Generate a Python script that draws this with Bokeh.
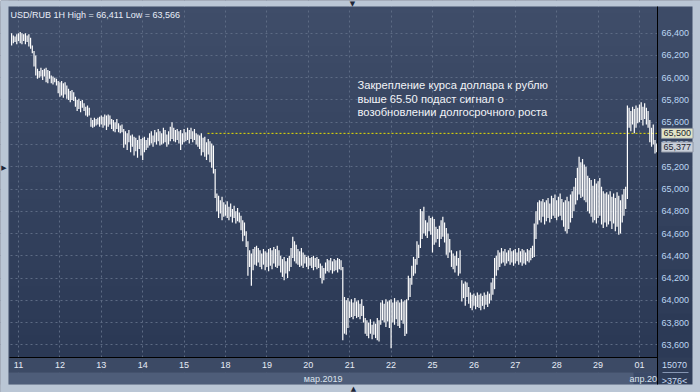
import numpy as np
from bokeh.plotting import figure
from bokeh.models import Range1d, FixedTicker, BoxAnnotation, Label, CustomJSTickFormatter
from bokeh.embed import file_html
from bokeh.resources import INLINE

# ---------------- data ----------------
day_labels = ["11", "12", "13", "14", "15", "18", "19", "20", "21", "22",
              "25", "26", "27", "28", "29", "01"]
day_ticks = [4, 28, 52, 76, 100, 124, 148, 172, 196, 220, 244, 268, 292, 316, 340, 364]
price_ticks = [63.6, 63.8, 64.0, 64.2, 64.4, 64.6, 64.8, 65.0, 65.2, 65.4, 65.6, 65.8, 66.0, 66.2, 66.4]
level_line = 65.50
last_price = 65.377
title_text = "USD/RUB 1H High = 66,411 Low = 63,566"
note_text = ("Закрепление курса доллара к рублю\n"
             "выше 65.50 подаст сигнал о\n"
             "возобновлении долгосрочного роста")
month_labels = ["мар.2019", "апр.20"]
bars_info = ["15070", ">376<"]

highs = [
    66.40, 66.38, 66.37, 66.39, 66.40, 66.41, 66.40, 66.39, 66.40, 66.38, 66.39, 66.36,
    66.29, 66.24, 66.20, 66.08, 66.06, 66.09, 66.07, 66.08, 66.09, 66.07, 66.06,
    66.02, 66.01, 66.00, 65.99,
    65.97, 65.96, 65.97, 65.95, 65.96, 65.93,
    65.90, 65.88, 65.89, 65.87,
    65.83, 65.80, 65.81, 65.79, 65.80, 65.77,
    65.74, 65.75, 65.73,
    65.64, 65.62, 65.64, 65.63, 65.64, 65.65,
    65.66, 65.65, 65.67, 65.66, 65.67, 65.66, 65.63,
    65.62, 65.60, 65.63, 65.59, 65.57, 65.58,
    65.54, 65.52, 65.50, 65.53, 65.48, 65.49,
    65.47, 65.46, 65.44, 65.48, 65.45, 65.46, 65.47, 65.44, 65.46,
    65.50, 65.52, 65.48, 65.53, 65.51, 65.54, 65.52, 65.50, 65.55, 65.53, 65.49, 65.52, 65.56, 65.60,
    65.55, 65.53, 65.54, 65.52, 65.53, 65.50, 65.54, 65.51, 65.55, 65.53, 65.55, 65.52, 65.54, 65.50,
    65.49, 65.48, 65.50, 65.46, 65.47, 65.42, 65.45, 65.43, 65.41,
    65.39, 65.18, 64.96,
    64.94, 64.90, 64.93, 64.88, 64.86, 64.89, 64.84, 64.87, 64.82, 64.85, 64.80, 64.83, 64.79,
    64.76, 64.72, 64.70, 64.62,
    64.53, 64.45, 64.42,
    64.46, 64.48, 64.49, 64.47,
    64.45, 64.42, 64.46, 64.44, 64.43, 64.46, 64.47, 64.45, 64.48, 64.46, 64.49, 64.45, 64.40,
    64.37, 64.39, 64.35, 64.38, 64.40, 64.47,
    64.57, 64.53, 64.50,
    64.46, 64.44, 64.47, 64.43, 64.41,
    64.39, 64.40, 64.38, 64.39, 64.40, 64.38, 64.39, 64.37,
    64.33, 64.31, 64.29,
    64.34, 64.37, 64.36, 64.38, 64.35, 64.37, 64.36, 64.38, 64.37, 64.36,
    64.30, 64.03, 64.00, 64.02,
    63.99, 64.01, 63.98, 64.02, 63.99, 64.00, 63.97, 64.01, 63.95,
    63.84, 63.82, 63.80, 63.83, 63.78, 63.81, 63.79, 63.84, 63.82,
    63.98, 64.00, 63.97, 64.01, 63.99, 64.00,
    64.01, 63.98, 64.02, 63.99, 64.00, 63.98, 64.01, 63.99, 64.00, 64.01,
    64.22, 64.20, 64.31, 64.39, 64.37,
    64.53, 64.50, 64.82, 64.80, 64.84,
    64.72, 64.70, 64.76, 64.74,
    64.75, 64.73, 64.66, 64.64, 64.67,
    64.72, 64.75, 64.70,
    64.65, 64.60, 64.55,
    64.45, 64.42, 64.40, 64.44, 64.38, 64.45,
    64.18, 64.15, 64.17, 64.16, 64.12,
    64.07, 64.05, 64.06, 64.04, 64.07, 64.05, 64.06, 64.04, 64.07, 64.05, 64.08, 64.06,
    64.16, 64.20, 64.38, 64.40,
    64.45, 64.43, 64.47,
    64.44, 64.46, 64.43, 64.45, 64.47, 64.44, 64.45, 64.46, 64.43, 64.47, 64.44, 64.46, 64.45, 64.43, 64.46, 64.45, 64.47, 64.49,
    64.69, 64.80,
    64.88, 64.90, 64.89, 64.91, 64.88, 64.90, 64.92, 64.87,
    64.94, 64.92, 64.95, 64.90, 64.93, 64.96, 64.91,
    64.88, 64.90, 64.93, 64.89, 64.95, 64.98,
    65.02, 65.10, 65.19, 65.29, 65.24, 65.27, 65.22, 65.20,
    65.12, 65.10, 65.08, 65.03, 65.09, 65.05, 65.07,
    65.10, 65.02, 64.98, 64.96, 64.97, 64.95, 64.98, 64.93, 64.96, 64.92, 64.97, 64.94,
    64.90, 64.95, 65.00, 65.02,
    65.75, 65.73, 65.70, 65.74, 65.72, 65.75, 65.73,
    65.76, 65.78, 65.74, 65.77, 65.73, 65.70,
    65.62, 65.55, 65.58,
    65.44, 65.41,
]

lows = [
    66.29, 66.31, 66.32, 66.30, 66.33, 66.31, 66.30, 66.33, 66.30, 66.32, 66.28, 66.26,
    66.22, 66.10, 66.02, 65.99, 66.00, 66.01, 65.98, 66.01, 65.96, 65.95, 65.99,
    65.95, 65.94, 65.96, 65.93,
    65.86, 65.83, 65.84, 65.82, 65.85, 65.81,
    65.80, 65.78, 65.80, 65.79,
    65.74, 65.70, 65.72, 65.69, 65.73, 65.70,
    65.66, 65.65, 65.66,
    65.56, 65.55, 65.56, 65.57, 65.58, 65.56,
    65.58, 65.55, 65.57, 65.53, 65.56, 65.58, 65.54,
    65.52, 65.51, 65.54, 65.51, 65.50, 65.51,
    65.37, 65.40, 65.35, 65.42, 65.33, 65.38,
    65.30, 65.34, 65.28, 65.36, 65.30, 65.26, 65.33, 65.35, 65.37,
    65.39, 65.41, 65.38, 65.42, 65.40, 65.43, 65.39, 65.40, 65.41, 65.42, 65.38, 65.40, 65.43, 65.45,
    65.43, 65.42, 65.44, 65.41, 65.35, 65.40, 65.42, 65.43, 65.44, 65.41, 65.45, 65.42, 65.44, 65.40,
    65.38, 65.36, 65.30, 65.33, 65.29, 65.26, 65.31, 65.24, 65.19,
    65.14, 64.92, 64.80,
    64.74, 64.78, 64.72, 64.75, 64.76, 64.74, 64.72, 64.75, 64.70, 64.74, 64.69, 64.71, 64.70,
    64.63, 64.53, 64.58, 64.48,
    64.22, 64.30, 64.13,
    64.27, 64.32, 64.31, 64.34,
    64.30, 64.28, 64.32, 64.27, 64.30, 64.26, 64.31, 64.28, 64.33, 64.30, 64.29, 64.31, 64.25,
    64.21, 64.18, 64.24, 64.20, 64.26, 64.30,
    64.38, 64.35, 64.33,
    64.32, 64.30, 64.31, 64.29, 64.33,
    64.30, 64.28, 64.31, 64.29, 64.27, 64.30, 64.28, 64.29,
    64.20, 64.15, 64.18,
    64.24, 64.26, 64.25, 64.27, 64.24, 64.26, 64.27, 64.25, 64.28, 64.27,
    63.64, 63.70, 63.69, 63.75,
    63.84, 63.85, 63.83, 63.86, 63.84, 63.85, 63.83, 63.86, 63.80,
    63.70, 63.68, 63.66, 63.70, 63.65, 63.69, 63.66, 63.64, 63.63,
    63.78, 63.82, 63.80, 63.76, 63.81, 63.75,
    63.57, 63.80, 63.78, 63.83, 63.77, 63.75, 63.82, 63.79, 63.68, 63.70,
    64.00, 64.03, 64.14, 64.22, 64.24,
    64.32, 64.38, 64.47, 64.55, 64.60,
    64.58, 64.56, 64.62, 64.59,
    64.43, 64.50, 64.52, 64.55, 64.48,
    64.55, 64.57, 64.52,
    64.41, 64.38, 64.43,
    64.30, 64.28, 64.25, 64.31, 64.22, 64.24,
    63.99, 64.02, 63.95, 64.03, 63.97,
    63.93, 63.91, 63.95, 63.92, 63.94, 63.93, 63.91, 63.95, 63.92, 63.96, 63.94, 63.97,
    64.00, 64.05, 64.10, 64.22,
    64.27, 64.30, 64.33,
    64.34, 64.31, 64.33, 64.35, 64.32, 64.34, 64.31, 64.33, 64.35, 64.32, 64.34, 64.31, 64.33, 64.32, 64.35, 64.34, 64.36, 64.38,
    64.39, 64.55,
    64.68, 64.72, 64.70, 64.75, 64.68, 64.71, 64.74, 64.70,
    64.73, 64.76, 64.74, 64.72, 64.75, 64.76, 64.72,
    64.66, 64.62, 64.60, 64.64, 64.70, 64.74,
    64.80, 64.86, 64.90, 64.95, 64.92, 64.93, 64.90, 64.88,
    64.80, 64.78, 64.75, 64.70, 64.72, 64.69, 64.74,
    64.76, 64.68, 64.65, 64.70, 64.66, 64.68, 64.71, 64.64, 64.69, 64.62, 64.66, 64.59,
    64.60, 64.70, 64.76, 64.82,
    64.91, 65.55, 65.52, 65.58, 65.50, 65.55, 65.59,
    65.60, 65.62, 65.57, 65.63, 65.58, 65.55,
    65.42, 65.38, 65.40,
    65.32, 65.33,
]

n = min(len(highs), len(lows))
bar_index = list(range(n))
highs = highs[:n]
lows = lows[:n]

# ---------------- layout geometry (pixels of the 700x392 canvas) ----------------
W, H = 700, 392
CH_L, CH_R, CH_T, CH_B = 9, 657, 8, 357          # chart area
X_AT_L, X_AT_R = -1.22, 374.45                    # bar index at chart left / right edge
Y_AT_T, Y_AT_B = 66.622, 63.486                   # price at chart top / bottom edge


def xd(px):
    return X_AT_L + (px - CH_L) * (X_AT_R - X_AT_L) / (CH_R - CH_L)


def yd(py):
    return Y_AT_T - (py - CH_T) * (Y_AT_T - Y_AT_B) / (CH_B - CH_T)


def ypx(price):
    return CH_T + (Y_AT_T - price) * (CH_B - CH_T) / (Y_AT_T - Y_AT_B)


FONT = "Liberation Sans"

# the frame spans the whole canvas; axes are pinned with fixed_location
p = figure(width=W, height=H, output_backend="svg", toolbar_location=None,
           x_range=Range1d(xd(0), xd(W)), y_range=Range1d(yd(H), yd(0)),
           y_axis_location="right", min_border=0,
           min_border_left=0, min_border_right=0, min_border_top=0, min_border_bottom=0)
p.title.visible = False
p.border_fill_color = "#3A4863"
p.background_fill_color = "#3A4863"
p.outline_line_color = None

# vertical gradient of the chart panel
N = 64
top_c = np.array([0x3F, 0x4D, 0x69], dtype=float)
bot_c = np.array([0x2B, 0x39, 0x55], dtype=float)
img = np.empty((N, 1), dtype=np.uint32)
view = img.view(dtype=np.uint8).reshape((N, 1, 4))
for r in range(N):
    t = r / (N - 1)
    c = bot_c + (top_c - bot_c) * t
    view[r, 0, 0] = int(c[0])
    view[r, 0, 1] = int(c[1])
    view[r, 0, 2] = int(c[2])
    view[r, 0, 3] = 255
p.image_rgba(image=[img], x=xd(8), y=yd(CH_B), dw=xd(CH_R) - xd(8), dh=yd(CH_T) - yd(CH_B),
             level="image")

# axes
xt = FixedTicker(ticks=day_ticks)
yt = FixedTicker(ticks=price_ticks)
p.xaxis.ticker = xt
p.xgrid.ticker = xt
p.yaxis.ticker = yt
p.ygrid.ticker = yt
p.xaxis.fixed_location = yd(CH_B)
p.yaxis.fixed_location = xd(CH_R)
p.xaxis.bounds = (xd(CH_L), xd(CH_R))
p.yaxis.bounds = (yd(384), yd(6))
p.xaxis.major_label_overrides = {t: lab for t, lab in zip(day_ticks, day_labels)}
p.yaxis.formatter = CustomJSTickFormatter(code="return tick.toFixed(3).replace('.', ',');")
for ax in (p.xaxis, p.yaxis):
    ax.axis_line_color = "black"
    ax.axis_line_width = 1
    ax.major_tick_line_color = None
    ax.minor_tick_line_color = None
    ax.major_tick_out = 0
    ax.major_tick_in = 0
    ax.major_label_text_font = FONT
    ax.major_label_text_font_size = "9px"
p.xaxis.major_label_text_color = "#E6ECF6"
p.xaxis.major_label_standoff = 4
p.yaxis.major_label_text_color = "#BCD6F2"
p.yaxis.major_label_standoff = 4

for g in (p.xgrid, p.ygrid):
    g.grid_line_color = "#5D6B84"
    g.grid_line_dash = "2 3"
    g.grid_line_width = 1


# decorative areas outside the chart (canvas pixels), drawn over the grid ends
def box(px0, px1, py0, py1, color, alpha=1.0, level="underlay"):
    b = BoxAnnotation(left=px0, right=px1, top=py0, bottom=py1,
                      left_units="canvas", right_units="canvas",
                      top_units="canvas", bottom_units="canvas",
                      fill_color=color, fill_alpha=alpha, line_color=None, level=level)
    p.add_layout(b)


# right price-scale area, banded like the panel gradient
bands = 8
for k in range(bands):
    y0 = 6 + (CH_B - 6) * k / bands
    y1 = 6 + (CH_B - 6) * (k + 1) / bands
    t = 1 - (k + 0.5) / bands
    c = bot_c + (top_c - bot_c) * t
    box(CH_R, 692, y0, y1 + 0.5, "#%02X%02X%02X" % (int(c[0]), int(c[1]), int(c[2])))
box(8, 692, 6, CH_T, "#3F4D69")
box(8, CH_L, 6, CH_B, "#3F4D69")
box(8, CH_R, CH_B, 372, "#3C4A65")
box(8, CH_R, 372, 384, "#4E5D79")
box(633, CH_R, 372, 384, "#2E3E5E", 0.6)
box(CH_R, 692, CH_B, 384, "#2F3D58")
box(662, 688, 371.5, 372.5, "#8696B2")
box(0, 8, 0, H, "#BAC6D5")
box(692, W, 0, H, "#BAC6D5")
box(0, W, 0, 6, "#BAC6D5")
box(0, W, 384, H, "#BAC6D5")

# level line and price bars
p.segment(x0=[xd(207)], y0=[level_line], x1=[xd(CH_R)], y1=[level_line],
          line_color="#E8E000", line_width=1, line_dash="2 2")
p.segment(x0=bar_index, y0=lows, x1=bar_index, y1=highs, line_color="white", line_width=1.2)


def clabel(x, y, text, size="9px", color="#DCE4EE", align="left", font=FONT, **kw):
    p.add_layout(Label(x=x, y=y, x_units="canvas", y_units="canvas", text=text,
                       text_font=font, text_font_size=size, text_color=color,
                       text_baseline="middle", text_align=align, **kw))


# texts
clabel(10, 14, title_text, color="#E8EEF8")
p.add_layout(Label(x=357, y=78.5, x_units="canvas", y_units="canvas", text=note_text,
                   text_font=FONT, text_font_size="11.2px", text_color="#F2F4F8",
                   text_baseline="top", text_align="left", text_line_height=1.13))
clabel(661, ypx(level_line), "65,500", color="#1C2430",
       background_fill_color="#E2E4C6", border_line_color="#8E96A4", padding=2)
clabel(661, ypx(last_price), "65,377", color="#1C2430",
       background_fill_color="#C9CFD9", border_line_color="#8E96A4", padding=2)
clabel(342, 378, month_labels[0], align="right")
clabel(629, 378, month_labels[1])
clabel(674, 364, bars_info[0], color="#C8DCF2", align="center")
clabel(674, 380, bars_info[1], color="#C8DCF2", align="center")
clabel(352, 3, "▼", size="7px", color="#1E2638", align="center", font="DejaVu Sans")
clabel(353, 388, "▲", size="7px", color="#1E2638", align="center", font="DejaVu Sans")
clabel(3.5, 167, "▶", size="7px", color="#1E2638", align="center", font="DejaVu Sans")

open("out.html", "w").write(file_html(p, INLINE))
